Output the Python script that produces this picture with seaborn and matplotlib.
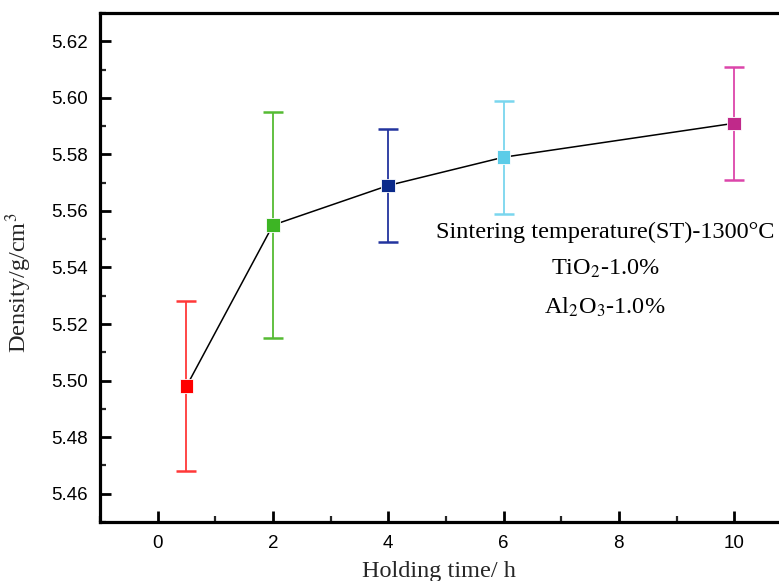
import numpy as np
import pandas as pd
import matplotlib
matplotlib.use("Agg")
import matplotlib.pyplot as plt
import seaborn as sns
from matplotlib.ticker import MultipleLocator

# ---- data ----
hours = [0.5, 2, 4, 6, 10]
density = [5.498, 5.555, 5.569, 5.579, 5.591]
error = [0.030, 0.040, 0.020, 0.020, 0.020]
labels = ["0.5 h", "2 h", "4 h", "6 h", "10 h"]
point_colors = ["#FF0000", "#3DB524", "#0B2A8A", "#5CCCE8", "#C0298A"]
err_colors = ["#FF3838", "#55BB33", "#23349E", "#7AD6EE", "#DC45AA"]
x_ticks = [0, 2, 4, 6, 8, 10]
y_ticks = [5.46, 5.48, 5.50, 5.52, 5.54, 5.56, 5.58, 5.60, 5.62]
note_lines = ["Sintering temperature(ST)-1300°C", "TiO$_2$-1.0%", "Al$_2$O$_3$-1.0%"]

sns.set_theme(style="ticks")
plt.rcParams["font.family"] = ["Liberation Sans", "DejaVu Sans"]
plt.rcParams["mathtext.fontset"] = "stix"

df = pd.DataFrame({"hours": hours, "density": density, "label": labels})

fig = plt.figure(figsize=(7.79, 5.81), dpi=100)
ax = fig.add_axes([100 / 779, 59 / 581, 682 / 779, 509 / 581])

for xv, yv, ev, c in zip(hours, density, error, err_colors):
    ax.errorbar(xv, yv, yerr=ev, fmt="none", ecolor=c, elinewidth=1.3,
                capsize=7, capthick=1.8, zorder=2)

sns.lineplot(data=df, x="hours", y="density", color="black", linewidth=1.1,
             ax=ax, zorder=3, sort=False)
sns.scatterplot(data=df, x="hours", y="density", hue="label",
                palette=point_colors, marker="s", s=95, edgecolor="white",
                linewidth=0.6, ax=ax, zorder=4, legend=False)

ax.set_xlim(-1, 10.83)
ax.set_ylim(5.45, 5.63)
ax.set_xticks(x_ticks)
ax.set_yticks(y_ticks)
ax.set_yticklabels([f"{v:.2f}" for v in y_ticks])
ax.xaxis.set_minor_locator(MultipleLocator(1))
ax.yaxis.set_minor_locator(MultipleLocator(0.01))
ax.tick_params(which="major", direction="in", length=8, width=2,
               labelsize=13.5, pad=9, colors="black")
ax.tick_params(which="minor", direction="in", length=4, width=1.6)
ax.tick_params(top=False, right=False, which="both")

for side in ["left", "bottom", "top"]:
    ax.spines[side].set_linewidth(2.3)
    ax.spines[side].set_color("black")
ax.spines["right"].set_visible(False)

ax.set_xlabel("Holding time/ h", fontfamily="Liberation Serif", fontsize=17.5)
ax.set_ylabel("Density/g/cm$^3$", fontfamily="Liberation Serif", fontsize=17.5)
ax.xaxis.set_label_coords((439 - 100) / 682, -0.077)
ax.yaxis.set_label_coords(-0.097, 0.47)

note_y = [5.5503, 5.5376, 5.5238]
for txt, yv in zip(note_lines, note_y):
    ax.text(7.76, yv, txt, fontfamily="Liberation Serif", fontsize=17.5,
            ha="center", va="baseline", color="black")

fig.savefig("out.png", dpi=100)
